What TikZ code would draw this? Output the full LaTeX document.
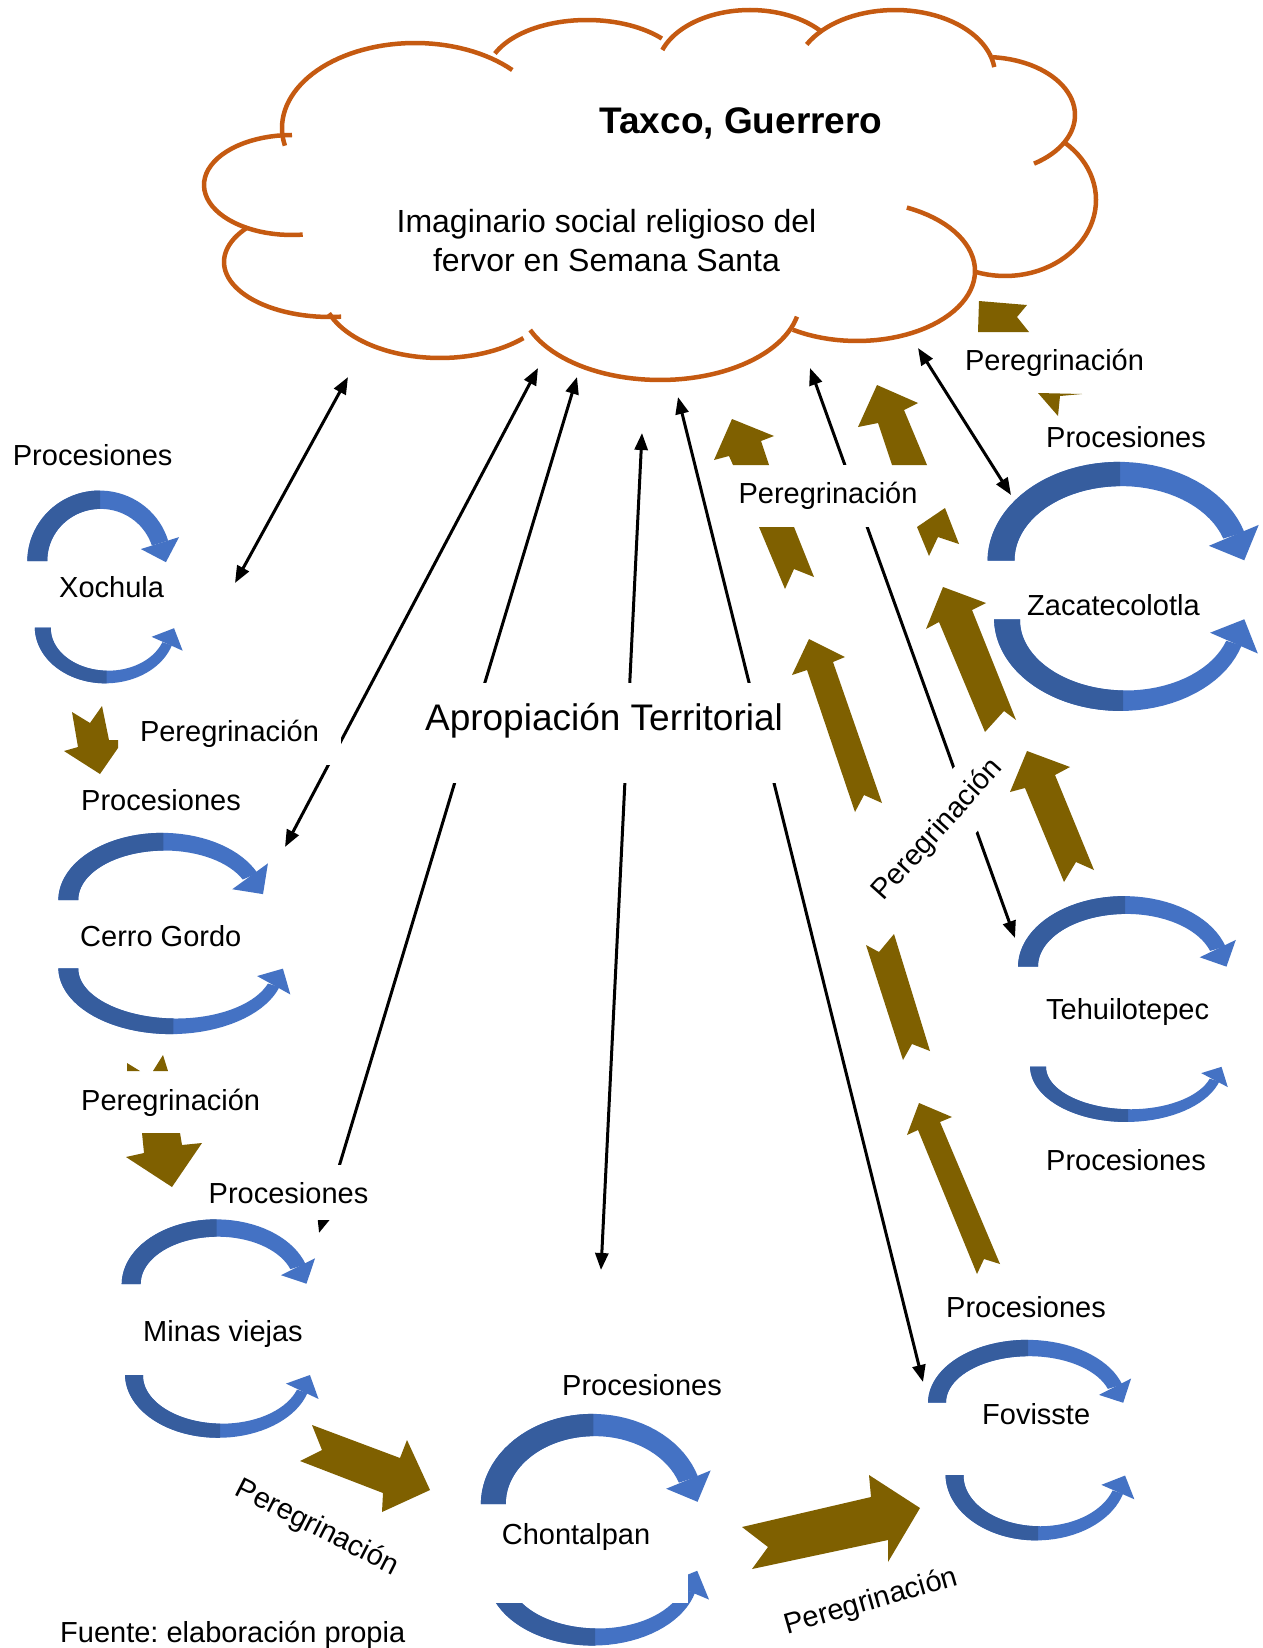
\documentclass[tikz,border=0pt]{standalone}
\usepackage{fontspec}
\setmainfont{Liberation Sans}
\usetikzlibrary{arrows.meta}
\frenchspacing
\definecolor{cloudc}{HTML}{C55A11}
\definecolor{brownc}{HTML}{7F6000}
\definecolor{bdark}{HTML}{365D9E}
\definecolor{blight}{HTML}{4472C4}
% curved block arrow: cx cy rx ry startangle endangle basewidth endwidth headsize
\newcommand\carr[9]{%
  \pgfmathsetmacro\crSg{(#6>#5)*2-1}%
  \pgfmathsetmacro\crAm{#5+\crSg*90}%
  \pgfmathsetmacro\crWk{(#8-#7)/(#6-#5)}%
  \fill[blight] plot[domain=#5:#6,samples=40] ({#1+(#3+(#7+\crWk*(\x-#5))/2)*cos(\x)},{#2+(#4+(#7+\crWk*(\x-#5))/2)*sin(\x)})
     -- plot[domain=#6:#5,samples=40] ({#1+(#3-(#7+\crWk*(\x-#5))/2)*cos(\x)},{#2+(#4-(#7+\crWk*(\x-#5))/2)*sin(\x)}) -- cycle;
  \fill[bdark] plot[domain=#5:\crAm,samples=25] ({#1+(#3+(#7+\crWk*(\x-#5))/2)*cos(\x)},{#2+(#4+(#7+\crWk*(\x-#5))/2)*sin(\x)})
     -- plot[domain=\crAm:#5,samples=25] ({#1+(#3-(#7+\crWk*(\x-#5))/2)*cos(\x)},{#2+(#4-(#7+\crWk*(\x-#5))/2)*sin(\x)}) -- cycle;
  \pgfmathsetmacro\crEx{#1+#3*cos(#6)}%
  \pgfmathsetmacro\crEy{#2+#4*sin(#6)}%
  \pgfmathsetmacro\crTx{-\crSg*#3*sin(#6)}%
  \pgfmathsetmacro\crTy{\crSg*#4*cos(#6)}%
  \pgfmathsetmacro\crTl{veclen(\crTx,\crTy)}%
  \pgfmathsetmacro\crUx{\crTx/\crTl}%
  \pgfmathsetmacro\crUy{\crTy/\crTl}%
  \fill[blight] ({\crEx-#9*(\crUy)},{\crEy+#9*(\crUx)}) -- ({\crEx+#9*(\crUx)},{\crEy+#9*(\crUy)}) -- ({\crEx+#9*(\crUy)},{\crEy-#9*(\crUx)}) -- cycle;
}
\tikzset{
  lab/.style={font=\fontsize{29}{34}\selectfont, inner sep=0pt},
  cloudline/.style={draw=cloudc, line width=4.5pt},
  conn/.style={line width=3pt, {Triangle[length=17pt,width=13pt]}-{Triangle[length=17pt,width=13pt]}},
  brownshape/.style={fill=brownc},
}
\begin{document}
\begin{tikzpicture}[x=1pt,y=-1pt]
\fill[white] (0,0) rectangle (1262,1648);
\useasboundingbox (0,0) rectangle (1262,1648);

% ---------- cloud ----------
\draw[cloudline] plot[domain=168:317,samples=50] ({415+133*cos(\x)},{128+85*sin(\x)});
\draw[cloudline] plot[domain=203:318.5,samples=40] ({587+100*cos(\x)},{75+55*sin(\x)});
\draw[cloudline] plot[domain=199.5:319,samples=40] ({750+93*cos(\x)},{70+60*sin(\x)});
\draw[cloudline] plot[domain=208:353,samples=40] ({895+100*cos(\x)},{75+65*sin(\x)});
\draw[cloudline] plot[domain=275:417,samples=40] ({985+90*cos(\x)},{115+58*sin(\x)});
\draw[cloudline] plot[domain=311:469.4,samples=40] ({1005+91*cos(\x)},{200+76*sin(\x)});
\draw[cloudline] plot[domain=295:483,samples=50] ({857+118*cos(\x)},{271+70*sin(\x)});
\draw[cloudline] plot[domain=158:12,samples=50] ({660+140*cos(\x)},{300+80*sin(\x)});
\draw[cloudline] plot[domain=160:45,samples=40] ({440+118*cos(\x)},{290+68*sin(\x)});
\draw[cloudline] plot[domain=219:84,samples=40] ({330+106*cos(\x)},{262+55*sin(\x)});
\draw[cloudline] plot[domain=270:83,samples=40] ({292+88*cos(\x)},{185+50*sin(\x)});

\node[font=\fontsize{37}{42}\selectfont\bfseries, inner sep=0pt, anchor=base] (taxco) at (741,133.5) {Taxco, Guerrero};
\node[font=\fontsize{32}{38}\selectfont, inner sep=0pt, anchor=base] (imag1) at (606.5,232.3) {Imaginario social religioso del};
\node[font=\fontsize{32}{38}\selectfont, inner sep=0pt, anchor=base] (imag2) at (606.5,271.7) {fervor en Semana Santa};

% ---------- connector end points ----------
\coordinate (cX1) at (348,377);   \coordinate (cX2) at (235,583);
\coordinate (cC1) at (538,368);   \coordinate (cC2) at (285,847);
\coordinate (cM1) at (577,377);   \coordinate (cM2) at (319,1233);
\coordinate (cH1) at (642,433);   \coordinate (cH2) at (601,1270);
\coordinate (cF1) at (678,397);   \coordinate (cF2) at (923,1382);
\coordinate (cT1) at (810,368);   \coordinate (cT2) at (1015,938);
\coordinate (cZ1) at (918,348);   \coordinate (cZ2) at (1011,495);

\draw[conn] (cX1) -- (cX2);
\draw[conn] (cC1) -- (cC2);
\draw[conn] (cM1) -- (cM2);
\draw[conn] (cH1) -- (cH2);
\draw[conn] (cF1) -- (cF2);
\draw[conn] (cT1) -- (cT2);
\draw[conn] (cZ1) -- (cZ2);

% ---------- text boxes (white) ----------
\node[lab, fill=white, anchor=base, minimum width=223pt, text height=25pt, text depth=24pt] (perX) at (229.5,741) {Peregrinación};
\node[lab, fill=white, anchor=base, minimum width=175pt, text height=38pt, text depth=17pt] (procM) at (288.5,1203) {Procesiones};
\node[font=\fontsize{37}{42}\selectfont, inner sep=0pt, fill=white, anchor=base, minimum width=375pt, text height=47pt, text depth=53pt] (aprop) at (604,730) {Apropiación Territorial};
\node[lab, fill=white, anchor=base, minimum width=220pt, text height=38pt, text depth=24pt] (perMT) at (828,503) {Peregrinación};
\node[lab, fill=white, anchor=base, minimum width=210pt, text height=38pt, text depth=23pt] (perTR) at (1054.5,370) {Peregrinación};
\node[lab, fill=white, rotate=48, minimum width=190pt, minimum height=60pt] (perR) at (938,830) {Peregrinación};

% ---------- brown block arrows ----------
\fill[brownshape] (732,419) -- (774,436) -- (761,441) -- (769,465) -- (733,465) -- (729,456) -- (714,460) -- cycle;
\fill[brownshape] (759,527) -- (794,527) -- (814,577) -- (794,569) -- (785,589) -- cycle;
\fill[brownshape] (877,385) -- (918,403) -- (904,410) -- (927,465) -- (892,465) -- (878,423) -- (858,427) -- cycle;
\fill[brownshape] (917,527) -- (945,508) -- (959,544) -- (938,537) -- (929,556) -- cycle;
\fill[brownshape] (809,639) -- (845,657) -- (833,662) -- (882,803) -- (864,795) -- (855,812) -- (807,670) -- (792,675) -- cycle;
\fill[brownshape] (943,587) -- (986,603) -- (972,610) -- (1016,720) -- (1004,711) -- (985,732) -- (939,622) -- (926,629) -- cycle;
\fill[brownshape] (1027,751) -- (1070,767) -- (1055,775) -- (1094,870) -- (1076,862) -- (1064,882) -- (1025,788) -- (1010,792) -- cycle;
\fill[brownshape] (866,945) -- (879,952) -- (894,934) -- (930,1051) -- (912,1044) -- (903,1060) -- cycle;
\fill[brownshape] (919,1103) -- (952,1117) -- (940,1122) -- (1000,1264) -- (984,1259) -- (977,1274) -- (918,1130) -- (907,1135) -- cycle;
\fill[brownshape] (979,301) -- (1027,305) -- (1017,317) -- (1029,332) -- (978,332) -- cycle;
\fill[brownshape] (1038,393) -- (1082,394) -- (1060,396) -- (1058,416) -- cycle;
\fill[brownshape] (72,712) -- (90,723) -- (102,706) -- (109,740) -- (118,740) -- (118,748) -- (100,774) -- (64,751) -- (78,747) -- cycle;
\fill[brownshape] (127,1063) -- (140,1071) -- (127,1071) -- cycle;
\fill[brownshape] (153,1071) -- (163,1055) -- (168,1071) -- cycle;
\fill[brownshape] (142,1133) -- (180,1133) -- (182,1145) -- (202,1143) -- (172,1187) -- (126,1157) -- (144,1153) -- cycle;
\fill[brownshape] (312,1425) -- (400,1458) -- (407,1440) -- (430,1490) -- (382,1512) -- (383,1493) -- (300,1461) -- (322,1450) -- cycle;
\fill[brownshape] (742,1527) -- (871,1497) -- (869,1475) -- (920,1508) -- (888,1562) -- (888,1540) -- (752,1569) -- (768,1547) -- cycle;

% ---------- blue curved arrows ----------
\carr{100}{561}{62.7}{61.3}{180}{343}{20}{17}{20}
\carr{106.7}{627.7}{63.9}{49.3}{180}{19}{16}{10}{17}
\carr{163.3}{900}{95}{58.3}{180}{336}{20}{16}{22}
\carr{173.3}{968.3}{105}{58}{180}{17}{20}{12}{19}
\carr{216.7}{1284}{85.5}{56}{180}{342}{19}{16}{19}
\carr{220}{1375}{86}{55.7}{180}{17}{18}{11}{18}
\carr{593.3}{1504}{100}{79}{180}{342}{25}{20}{24}
\carr{595}{1575}{97}{62}{180}{15}{22}{13}{22}
\carr{1028}{1402.7}{91}{54.7}{180}{343}{18}{15}{18}
\carr{1038}{1475}{83.5}{58.3}{180}{17}{18}{11}{18}
\carr{1125}{966.6}{97}{61.6}{180}{343}{20}{16}{20}
\carr{1128}{1066.6}{90}{49}{180}{16}{16}{10}{15}
\carr{1120}{560.7}{119}{86.7}{180}{343}{27}{22}{27}
\carr{1123}{619.3}{116}{81.4}{180}{17}{26}{16}{26}

\node[lab, fill=white, anchor=base, minimum width=224pt, text height=38pt, text depth=59pt] (chont) at (576,1544) {Chontalpan};

% ---------- labels ----------
\node[lab, anchor=base west] (procX) at (12.7,465) {Procesiones};
\node[lab, anchor=base west] (xochula) at (59,597) {Xochula};
\node[lab, anchor=base west] (procC) at (81,810) {Procesiones};
\node[lab, anchor=base west] (cerro) at (80,946) {Cerro Gordo};
\node[lab, anchor=base west] (perC) at (81,1110) {Peregrinación};
\node[lab, anchor=base west] (minas) at (143,1341) {Minas viejas};
\node[lab, rotate=-27] (perMC) at (317,1528) {Peregrinación};
\node[lab, anchor=base west] (procH) at (562,1395) {Procesiones};
\node[lab, rotate=16] (perCF) at (871,1602) {Peregrinación};
\node[lab, anchor=base west] (fuente) at (60,1642) {Fuente: elaboración propia};
\node[lab, anchor=base west] (procF) at (946,1317) {Procesiones};
\node[lab, anchor=base west] (fov) at (982,1424) {Fovisste};
\node[lab, anchor=base west] (procT) at (1046,1170) {Procesiones};
\node[lab, anchor=base west] (tehui) at (1046,1019) {Tehuilotepec};
\node[lab, anchor=base west] (zaca) at (1027,615) {Zacatecolotla};
\node[lab, anchor=base west] (procZ) at (1046,447) {Procesiones};
\end{tikzpicture}
\end{document}
